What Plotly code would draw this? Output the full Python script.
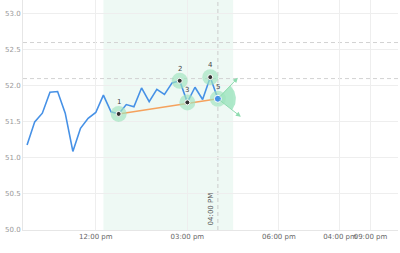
import plotly.graph_objects as go
import pandas as pd
import numpy as np

day = "2024-01-02 "
times = ["09:45", "10:00", "10:15", "10:30", "10:45", "11:00", "11:15", "11:30", "11:45",
         "12:00", "12:15", "12:30", "12:45", "13:00", "13:15", "13:30", "13:45", "14:00",
         "14:15", "14:30", "14:45", "15:00", "15:15", "15:30", "15:45", "16:00"]
values = [51.18, 51.50, 51.62, 51.91, 51.92, 51.62, 51.09, 51.41, 51.55,
          51.63, 51.87, 51.64, 51.61, 51.74, 51.71, 51.97, 51.78, 51.95,
          51.88, 52.04, 52.07, 51.77, 51.98, 51.81, 52.12, 51.82]

pattern_idx = [12, 20, 21, 24, 25]
pattern_labels = ["1", "2", "3", "4", "5"]
trend_idx = [12, 25]

levels = [52.60, 52.10]
zone = ["12:15", "16:30"]
marker_time = "16:00"
marker_label = "04:00 PM"

tick_times = ["12:00", "15:00", "18:00", "20:00", "21:00"]
tick_text = ["12:00 pm", "03:00 pm", "06:00 pm", "04:00 pm", "09:00 pm"]

x_range = ["09:37", "21:54"]
y_range = [50.0, 53.19]

W, H = 400, 253
ML, MR, MT, MB = 23, 2, 0, 23

ts = pd.to_datetime([day + t for t in times])
xr = pd.to_datetime([day + t for t in x_range])

plot_w = W - ML - MR
plot_h = H - MT - MB
ms_per_px = (xr[1] - xr[0]).total_seconds() * 1000 / plot_w
val_per_px = (y_range[1] - y_range[0]) / plot_h

def offset(t, v, dx, dy):
    return t + pd.Timedelta(milliseconds=dx * ms_per_px), v - dy * val_per_px

blue = "#4691e6"
orange = "#f5a25d"
green_halo = "rgba(160,228,190,0.65)"
green = "#8fdcb0"

fig = go.Figure()

p5t, p5v = ts[pattern_idx[-1]], values[pattern_idx[-1]]
a1, a2 = np.deg2rad(-47), np.deg2rad(38)
rad = 18
angs = np.linspace(a1, a2, 30)
fx, fy = [p5t], [p5v]
for a in angs:
    t, v = offset(p5t, p5v, rad * np.cos(a), rad * np.sin(a))
    fx.append(t); fy.append(v)
fx.append(p5t); fy.append(p5v)
fig.add_trace(go.Scatter(x=fx, y=fy, mode="lines", fill="toself",
                         fillcolor="rgba(150,225,185,0.75)", line=dict(width=0),
                         hoverinfo="skip", showlegend=False))

fig.add_trace(go.Scatter(x=ts, y=values, mode="lines",
                         line=dict(color=blue, width=1.6), showlegend=False))

fig.add_trace(go.Scatter(x=[ts[i] for i in trend_idx], y=[values[i] for i in trend_idx],
                         mode="lines", line=dict(color=orange, width=1.6), showlegend=False))

fig.add_trace(go.Scatter(x=[ts[i] for i in pattern_idx], y=[values[i] for i in pattern_idx],
                         mode="markers", marker=dict(size=16, color=green_halo, line=dict(width=0)),
                         showlegend=False))
fig.add_trace(go.Scatter(x=[ts[i] for i in pattern_idx[:-1]], y=[values[i] for i in pattern_idx[:-1]],
                         mode="markers", marker=dict(size=5, color="#333333", line=dict(color="white", width=1)),
                         showlegend=False))
fig.add_trace(go.Scatter(x=[p5t], y=[p5v], mode="markers",
                         marker=dict(size=7, color=blue, line=dict(color="white", width=1)),
                         showlegend=False))

annotations = []
for i, lab in zip(pattern_idx, pattern_labels):
    annotations.append(dict(x=ts[i], y=values[i], text=lab, showarrow=False, yshift=12,
                            font=dict(size=7, color="#444", family="DejaVu Sans")))

for (dx, dy) in [(20, -21), (23, 18)]:
    tt, vv = offset(p5t, p5v, dx, dy)
    annotations.append(dict(x=tt, y=vv, ax=p5t, ay=p5v, axref="x", ayref="y",
                            xref="x", yref="y", text="", showarrow=True,
                            arrowhead=2, arrowsize=1, arrowwidth=1, arrowcolor=green))

mt = pd.to_datetime(day + marker_time)
annotations.append(dict(x=mt, y=0, xref="x", yref="paper", text=marker_label, textangle=-90,
                        showarrow=False, xanchor="right", yanchor="bottom", xshift=-1, yshift=3,
                        font=dict(size=7, color="#555", family="DejaVu Sans")))

shapes = []
zr = pd.to_datetime([day + z for z in zone])
shapes.append(dict(type="rect", xref="x", yref="paper", x0=zr[0], x1=zr[1], y0=0, y1=1,
                   fillcolor="rgba(226,245,236,0.6)", line=dict(width=0), layer="below"))
for lv in levels:
    shapes.append(dict(type="line", xref="paper", yref="y", x0=0, x1=1, y0=lv, y1=lv,
                       line=dict(color="#d2d2d2", width=1, dash="4px,3px"), layer="below"))
shapes.append(dict(type="line", xref="x", yref="paper", x0=mt, x1=mt, y0=0, y1=1,
                   line=dict(color="#cccccc", width=1, dash="4px,3px"), layer="below"))

fig.update_layout(
    width=W, height=H, margin=dict(l=ML, r=MR, t=MT, b=MB, autoexpand=False),
    plot_bgcolor="white", paper_bgcolor="white",
    shapes=shapes, annotations=annotations, showlegend=False,
    xaxis=dict(range=list(xr), tickvals=pd.to_datetime([day + t for t in tick_times]),
               ticktext=tick_text, tickangle=0, showgrid=True, gridcolor="#eeeeee", gridwidth=1,
               zeroline=False, showline=True, linecolor="#e6e6e6", automargin=False,
               tickfont=dict(size=7, color="#666", family="DejaVu Sans"), ticks=""),
    yaxis=dict(range=y_range, tickvals=[50.0, 50.5, 51.0, 51.5, 52.0, 52.5, 53.0],
               ticktext=["50.0", "50.5", "51.0", "51.5", "52.0", "52.5", "53.0"],
               showgrid=True, gridcolor="#eeeeee", gridwidth=1, zeroline=False,
               showline=True, linecolor="#e6e6e6", automargin=False,
               tickfont=dict(size=7, color="#999", family="DejaVu Sans"), ticks=""),
)

fig.write_html("out.html")
